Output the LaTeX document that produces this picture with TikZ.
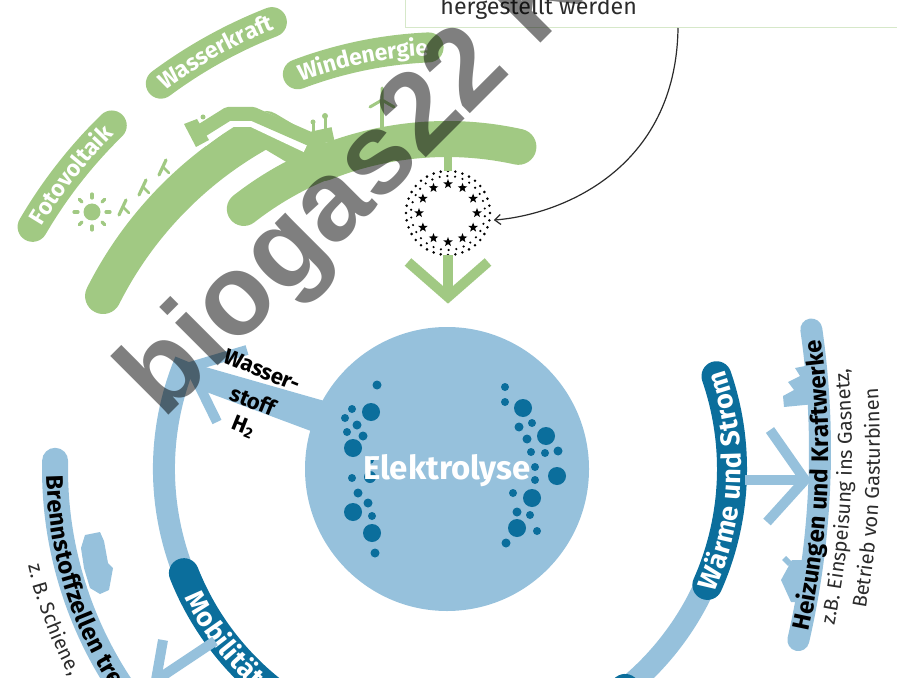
\documentclass[tikz,border=0pt]{standalone}
\usepackage{fontspec}
\setmainfont{Fira Sans}
\newfontfamily\markfont{Liberation Sans}
\usetikzlibrary{decorations.text,arrows.meta,shapes.geometric,calc}
\definecolor{leaf}{HTML}{A1C983}
\definecolor{leafpale}{HTML}{D6E8C9}
\definecolor{sky}{HTML}{96C1DC}
\definecolor{deep}{HTML}{0B6E9C}
\definecolor{ink}{HTML}{2B2B2B}
\begin{document}
\begin{tikzpicture}[x=0.5pt,y=-0.5pt,
  ring/.style={draw=sky,line width=11pt},
  darkband/.style={draw=deep,line width=15pt,line cap=round},
  pill/.style={draw=leaf,line width=15pt,line cap=round},
  chevron/.style={draw=#1,line width=5pt,line join=miter},
  arctext/.style n args={3}{decorate,decoration={text along path,text align=#1,raise=#2,text={#3}}},
]
\useasboundingbox (0,0) rectangle (897,678);
\clip (0,0) rectangle (897,678);
\coordinate (C) at (447,469);
\coordinate (H) at (-25,450);

% ---------- green supply arcs ----------
\draw[draw=leaf,line width=18pt,line cap=round,line join=round]
  (C) ++(-153.3:385) arc[start angle=-153.3,end angle=-118,radius=385]
  -- ($(C)+(-112:330)$) arc[start angle=-112,end angle=-77.5,radius=330];
\draw[draw=leaf,line width=17pt,line cap=round]
  (C) ++(-128:330) arc[start angle=-128,end angle=-108,radius=330];
% conduit from hydro to wind
\draw[white,line width=10pt,line join=round] (200,138) -- (228,117) -- (253,117) -- (308,143);
\draw[leaf,line width=7pt,line join=round] (196,134) -- (228,114) -- (253,114) -- (310,139) -- (333,134);
% hydro dam
\fill[leaf] (184,124) -- (197,119) -- (209,140) -- (196,147) -- cycle;
\fill[leaf] (203,117) circle[radius=2.5];
% small turbines
\draw[leaf,line width=1.5pt] (313,136) -- (313,124) (325,134) -- (325,118);
\fill[leaf] (313,122) circle[radius=2.5] (325,116) circle[radius=3];
% big turbine
\draw[leaf,line width=2pt] (382,130) -- (382,100);
\draw[leaf,line width=1.5pt,line cap=round] (382,100) -- (370,107) (382,100) -- (394,107) (382,100) -- (382,88);
% sun
\coordinate (sun) at (92,212);
\fill[leaf] (sun) circle[radius=8.5];
\foreach \a in {0,45,...,315}
  \draw[leaf,line width=1.6pt,line cap=round] ($(sun)+(\a:14)$) -- ($(sun)+(\a:18)$);
% solar panels
\foreach \x/\y in {123/207,143/187,163/167}{
  \draw[leaf,line width=1.6pt,line cap=round] (\x-4,\y+8) -- (\x+3,\y-7);
  \draw[leaf,line width=1.3pt,line cap=round] (\x,\y) -- (\x+6,\y+6);
}

% ---------- labels on green pills ----------
\draw[pill] (C) ++(-149.7:480) arc[start angle=-149.7,end angle=-134.3,radius=480];
\path[arctext={center}{-4pt}{|\color{white}\bfseries\fontsize{11.5}{12}\selectfont|Fotovoltaik}]
  (C) ++(-149.7:480) arc[start angle=-149.7,end angle=-134.3,radius=480];
\draw[pill] (C) ++(-126.6:480) arc[start angle=-126.6,end angle=-111.4,radius=480];
\path[arctext={center}{-4pt}{|\color{white}\bfseries\fontsize{11.5}{12}\selectfont|Wasserkraft}]
  (C) ++(-126.6:480) arc[start angle=-126.6,end angle=-111.4,radius=480];
\draw[pill] (C) ++(-110.7:422) arc[start angle=-110.7,end angle=-92.5,radius=422];
\path[arctext={center}{-4pt}{|\color{white}\bfseries\fontsize{11.5}{12}\selectfont|Windenergie}]
  (C) ++(-110.7:422) arc[start angle=-110.7,end angle=-92.5,radius=422];

% ---------- note box and EU sign ----------
\node[draw=leafpale,fill=white,line width=0.6pt,minimum width=260pt,minimum height=30pt,
      anchor=south west,inner sep=0] (note) at (405,28) {};
\node[anchor=base west,text=ink,font=\fontsize{11.6}{13}\selectfont,inner sep=0] (notetext) at (440,15) {hergestellt werden};

\node[circle,minimum size=42pt,inner sep=0] (eu) at (448,213) {};
\foreach \a in {0,30,...,330}
  \node[star,star points=5,star point ratio=2.4,fill=black,inner sep=0,minimum size=5pt] at ($(eu)+(\a:29)$) {};
\foreach \a in {0,10,...,350} \fill ($(eu)+(\a:42)$) circle (0.7pt);
\foreach \a in {5,17,...,353} \fill ($(eu)+(\a:37)$) circle (0.6pt);

\draw[ink,line width=0.6pt,-{Straight Barb[length=3pt,width=5pt]},shorten >=2pt]
  ([xshift=136.5pt]note.south west) .. controls (676,170) and (560,215) .. (eu.-10);

\draw[leaf,line width=4pt] (448,155) -- (eu.north);
\draw[leaf,line width=5pt] (eu.south) -- (448,296);
\draw[chevron=leaf] (408,262) -- (448,297) -- (488,262);

% ---------- blue cycle ----------
\draw[ring] (C) ++(-157.5:283) arc[start angle=-157.5,end angle=-280,radius=283];
\draw[ring] (C) ++(-20:283) arc[start angle=-20,end angle=100,radius=283];
\draw[darkband] (C) ++(-201.6:283) arc[start angle=-201.6,end angle=-260,radius=283];
\path[arctext={left}{-4.6pt}{|\color{white}\bfseries\fontsize{13.5}{14}\selectfont|Mobilität}]
  (C) ++(-206:283) arc[start angle=-206,end angle=-262,radius=283];
\draw[darkband] (C) ++(24:285) arc[start angle=24,end angle=-19,radius=285];
\path[arctext={center}{-4.6pt}{|\color{white}\bfseries\fontsize{13.5}{14}\selectfont|Wärme und Strom}]
  (C) ++(24:285) arc[start angle=24,end angle=-19,radius=285];
\draw[darkband] (C) ++(51:283) arc[start angle=51,end angle=90,radius=283];

% hydrogen outlet
\fill[sky] (195,364) -- (335,404) -- (335,440) -- (201,390) -- cycle;
\draw[chevron=sky] (247,350) -- (190,367) -- (217,422);
\node[anchor=base west,rotate=-22,font=\bfseries\fontsize{11}{12}\selectfont,inner sep=0] (h2a) at (222,362) {Wasser-};
\node[anchor=base west,rotate=-22,font=\bfseries\fontsize{11}{12}\selectfont,inner sep=0] (h2b) at (228,399) {stoff};
\node[anchor=base west,rotate=-22,font=\bfseries\fontsize{11}{12}\selectfont,inner sep=0] (h2c) at (230,428) {H\raisebox{-1.5pt}{\fontsize{7.5}{8}\selectfont 2}};

% electrolysis
\node[circle,fill=sky,minimum size=142pt,inner sep=0] (ely) at (447,469) {};
\foreach \x/\y/\r in {377/385/4.5,371/412/9,352/409/4,345/418/4,357/425/4.5,347/432/4,363/436/4.5,
  353/448/9,370/460/4,352/478/4,370/477/6,358/493/4.5,368/503/4.5,353/512/9,372/516/4,372/533/9,375/553/4.5,
  505/387/4,505/402/4,523/408/9,519/427/4.5,532/423/4,546/436/9,527/439/4.5,531/452/4,545/453/4,558/451/4.5,
  535/467/4,557/476/9,535/480/4,513/493/4,532/498/9,517/512/4.5,530/515/4,517/528/9,537/531/4,506/543/4.5}
  \fill[deep] (\x,\y) circle[radius=\r];
\node[text=white,font=\bfseries\fontsize{16.5}{17}\selectfont] (elylabel) at (447,471) {Elektrolyse};

% outgoing arrows
\draw[sky,line width=5pt] (745,480) -- (804,480);
\draw[chevron=sky] (770,430) -- (805,480) -- (767,522);
\draw[sky,line width=5pt] (215,641) -- (158,679);
\draw[chevron=sky] (163,640) -- (156,680) -- (205,691);

% ---------- consumers ----------
% factory and house
\fill[sky] (815,364) -- (795,368) -- (800,376) -- (788,382) -- (794,390) -- (783,396) -- (784,407) -- (815,404) -- cycle;
\fill[sky] (812,560) -- (792,560) -- (781,580) -- (791,602) -- (812,603) -- cycle;
\fill[sky] (788,566) -- (782,560) -- (786,556) -- (792,562) -- cycle;
\draw[draw=sky,line width=11pt,line cap=round] (H) ++(13:845) arc[start angle=13,end angle=-8.2,radius=845];
\path[arctext={center}{-4.2pt}{|\bfseries\fontsize{12}{13}\selectfont|Heizungen und Kraftwerke}]
  (H) ++(13:845) arc[start angle=13,end angle=-8.2,radius=845];
\path[arctext={center}{0pt}{|\color{ink}\fontsize{10}{11}\selectfont|z.B. Einspeisung ins Gasnetz,}]
  (H) ++(18.1:877) arc[start angle=18.1,end angle=-11.9,radius=877];
\path[arctext={center}{0pt}{|\color{ink}\fontsize{10}{11}\selectfont|Betrieb von Gasturbinen}]
  (H) ++(18.1:905) arc[start angle=18.1,end angle=-11.9,radius=905];

% vehicle
\fill[sky] (85,535) -- (100,532) -- (104,541) -- (108,563) -- (113,568) -- (109,590) -- (100,594) -- (90,588) -- (84,568) -- (81,548) -- cycle;
\draw[draw=sky,line width=13pt,line cap=round] (C) ++(-178.8:392) arc[start angle=-178.8,end angle=-250,radius=392];
\path[arctext={left}{-4.2pt}{|\bfseries\fontsize{12}{13}\selectfont|Brennstoffzellen tre}]
  (C) ++(-180.9:392) arc[start angle=-180.9,end angle=-250,radius=392];
\path[arctext={left}{-3pt}{|\color{ink}\fontsize{10}{11}\selectfont|z. B. Schiene,}]
  (C) ++(-193:424) arc[start angle=-193,end angle=-250,radius=424];

% ---------- overprint ----------
\node[font=\markfont\bfseries\fontsize{57}{57}\selectfont,text=black,text opacity=0.5,rotate=45,
      anchor=base west,inner sep=0] (mark) at (163,421) {biogas22 K};
\end{tikzpicture}
\end{document}
